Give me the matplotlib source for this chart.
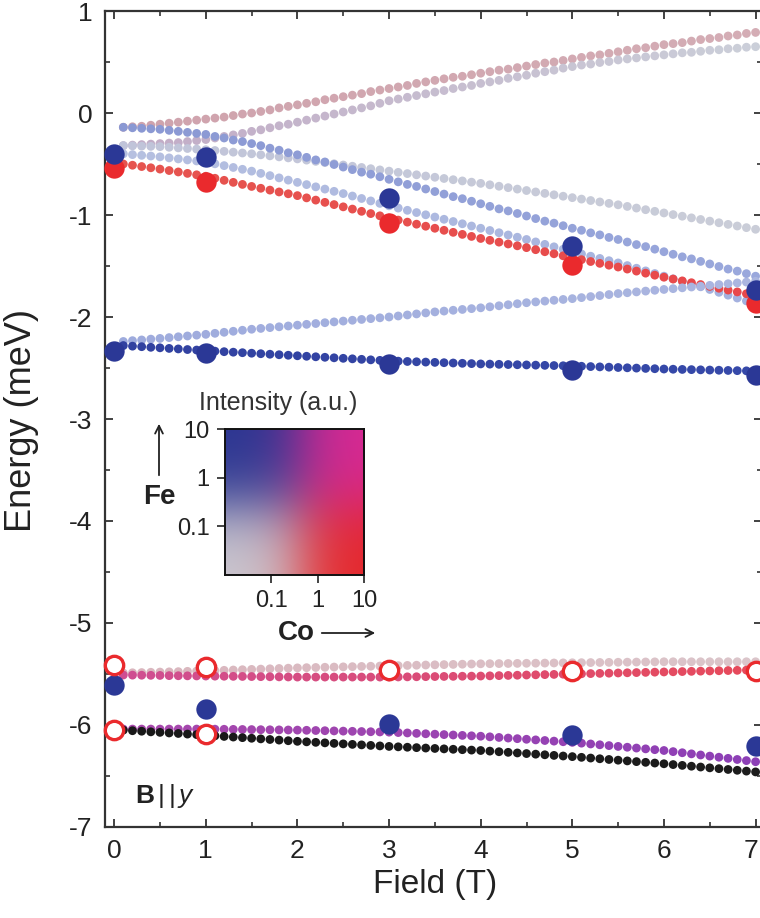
import numpy as np
import matplotlib
matplotlib.use("Agg")
import matplotlib.pyplot as plt
import matplotlib.transforms as mtransforms
from matplotlib.ticker import MultipleLocator

plt.rcParams['font.family'] = ['Liberation Sans', 'DejaVu Sans']
plt.rcParams['axes.unicode_minus'] = False
plt.rcParams['mathtext.fontset'] = 'custom'
plt.rcParams['mathtext.rm'] = 'Liberation Sans'
plt.rcParams['mathtext.bf'] = 'Liberation Sans:bold'
plt.rcParams['mathtext.it'] = 'Liberation Sans:italic'

# ---------------- data ----------------
field = np.round(np.arange(1, 71) * 0.1, 1)   # calculated levels, 0.1 ... 7.0 T

level_rosy = [-0.14,-0.135,-0.13,-0.12,-0.11,-0.10,-0.09,-0.08,-0.07,-0.06,
              -0.05,-0.04,-0.025,-0.01,0.0,0.015,0.03,0.05,0.065,0.08,
              0.095,0.11,0.13,0.145,0.16,0.175,0.19,0.21,0.225,0.24,
              0.255,0.27,0.29,0.305,0.32,0.335,0.35,0.36,0.375,0.39,
              0.405,0.42,0.43,0.445,0.46,0.475,0.49,0.50,0.515,0.53,
              0.545,0.56,0.57,0.585,0.60,0.615,0.63,0.64,0.655,0.67,
              0.68,0.69,0.705,0.72,0.73,0.74,0.755,0.765,0.78,0.79]
level_gray_up = [-0.32,-0.315,-0.31,-0.305,-0.30,-0.295,-0.29,-0.28,-0.27,-0.26,
                 -0.245,-0.23,-0.215,-0.20,-0.18,-0.165,-0.145,-0.125,-0.11,-0.09,
                 -0.07,-0.05,-0.03,-0.01,0.01,0.03,0.05,0.07,0.095,0.12,
                 0.137,0.154,0.171,0.188,0.205,0.22,0.24,0.255,0.27,0.29,
                 0.305,0.32,0.34,0.355,0.37,0.39,0.405,0.42,0.44,0.455,
                 0.47,0.48,0.495,0.505,0.52,0.53,0.54,0.55,0.56,0.57,
                 0.58,0.59,0.595,0.605,0.615,0.62,0.63,0.635,0.645,0.65]
level_blue_down = [-0.14,-0.145,-0.15,-0.155,-0.16,-0.17,-0.18,-0.19,-0.20,-0.21,
                   -0.23,-0.245,-0.265,-0.28,-0.30,-0.32,-0.345,-0.365,-0.39,-0.41,
                   -0.435,-0.46,-0.48,-0.505,-0.53,-0.555,-0.58,-0.60,-0.625,-0.65,
                   -0.675,-0.70,-0.72,-0.745,-0.77,-0.795,-0.82,-0.84,-0.865,-0.89,
                   -0.915,-0.94,-0.96,-0.985,-1.01,-1.035,-1.06,-1.08,-1.105,-1.13,
                   -1.15,-1.175,-1.195,-1.22,-1.24,-1.265,-1.29,-1.31,-1.335,-1.36,
                   -1.385,-1.41,-1.43,-1.455,-1.48,-1.505,-1.53,-1.55,-1.575,-1.60]
level_gray_down = [-0.32,-0.322,-0.325,-0.327,-0.33,-0.336,-0.342,-0.348,-0.354,-0.36,
                   -0.368,-0.376,-0.384,-0.392,-0.40,-0.41,-0.42,-0.43,-0.44,-0.45,
                   -0.462,-0.474,-0.486,-0.498,-0.51,-0.522,-0.534,-0.546,-0.558,-0.57,
                   -0.582,-0.594,-0.606,-0.618,-0.63,-0.642,-0.654,-0.666,-0.678,-0.69,
                   -0.704,-0.718,-0.732,-0.746,-0.76,-0.774,-0.788,-0.802,-0.816,-0.83,
                   -0.844,-0.858,-0.872,-0.886,-0.90,-0.916,-0.932,-0.948,-0.964,-0.98,
                   -0.996,-1.012,-1.028,-1.044,-1.06,-1.076,-1.092,-1.108,-1.124,-1.14]
level_light_down = [-0.40,-0.408,-0.415,-0.422,-0.43,-0.44,-0.45,-0.46,-0.47,-0.48,
                    -0.498,-0.516,-0.534,-0.552,-0.57,-0.592,-0.614,-0.636,-0.658,-0.68,
                    -0.702,-0.724,-0.746,-0.768,-0.79,-0.814,-0.838,-0.862,-0.886,-0.91,
                    -0.932,-0.954,-0.976,-0.998,-1.02,-1.042,-1.064,-1.086,-1.108,-1.13,
                    -1.152,-1.174,-1.196,-1.218,-1.24,-1.264,-1.288,-1.312,-1.336,-1.36,
                    -1.382,-1.404,-1.426,-1.448,-1.47,-1.496,-1.522,-1.548,-1.574,-1.60,
                    -1.626,-1.652,-1.678,-1.704,-1.73,-1.758,-1.786,-1.814,-1.842,-1.87]
level_red = [-0.50,-0.512,-0.525,-0.537,-0.55,-0.564,-0.578,-0.592,-0.606,-0.62,
             -0.64,-0.66,-0.68,-0.70,-0.72,-0.738,-0.756,-0.774,-0.792,-0.81,
             -0.832,-0.854,-0.876,-0.898,-0.92,-0.942,-0.964,-0.986,-1.008,-1.03,
             -1.05,-1.07,-1.09,-1.11,-1.13,-1.15,-1.17,-1.19,-1.21,-1.23,
             -1.248,-1.266,-1.284,-1.302,-1.32,-1.34,-1.36,-1.38,-1.40,-1.42,
             -1.438,-1.456,-1.474,-1.492,-1.51,-1.53,-1.55,-1.57,-1.59,-1.61,
             -1.628,-1.646,-1.664,-1.682,-1.70,-1.718,-1.736,-1.754,-1.772,-1.79]
level_light_up = [-2.24,-2.232,-2.225,-2.217,-2.21,-2.202,-2.194,-2.186,-2.178,-2.17,
                  -2.16,-2.15,-2.14,-2.13,-2.12,-2.112,-2.104,-2.096,-2.088,-2.08,
                  -2.072,-2.064,-2.056,-2.048,-2.04,-2.032,-2.024,-2.016,-2.008,-2.00,
                  -1.99,-1.98,-1.97,-1.96,-1.95,-1.942,-1.934,-1.926,-1.918,-1.91,
                  -1.90,-1.89,-1.88,-1.87,-1.86,-1.852,-1.844,-1.836,-1.828,-1.82,
                  -1.81,-1.80,-1.79,-1.78,-1.77,-1.762,-1.754,-1.746,-1.738,-1.73,
                  -1.722,-1.714,-1.706,-1.698,-1.69,-1.682,-1.674,-1.666,-1.658,-1.65]
level_dark_blue = [-2.28,-2.286,-2.291,-2.297,-2.302,-2.308,-2.313,-2.319,-2.324,-2.33,
                   -2.335,-2.34,-2.345,-2.35,-2.355,-2.36,-2.365,-2.37,-2.375,-2.38,
                   -2.385,-2.39,-2.395,-2.40,-2.405,-2.41,-2.415,-2.42,-2.425,-2.43,
                   -2.433,-2.436,-2.439,-2.442,-2.445,-2.448,-2.451,-2.454,-2.457,-2.46,
                   -2.462,-2.464,-2.466,-2.468,-2.47,-2.472,-2.474,-2.476,-2.478,-2.48,
                   -2.483,-2.486,-2.489,-2.492,-2.495,-2.498,-2.501,-2.504,-2.507,-2.51,
                   -2.512,-2.514,-2.516,-2.518,-2.52,-2.522,-2.524,-2.526,-2.528,-2.53]
level_low_rosy = [-5.49,-5.488,-5.486,-5.483,-5.481,-5.479,-5.477,-5.474,-5.472,-5.47,
                  -5.467,-5.464,-5.461,-5.458,-5.455,-5.452,-5.449,-5.446,-5.443,-5.44,
                  -5.438,-5.436,-5.434,-5.432,-5.43,-5.428,-5.426,-5.424,-5.422,-5.42,
                  -5.418,-5.416,-5.414,-5.412,-5.41,-5.408,-5.406,-5.404,-5.402,-5.40,
                  -5.399,-5.398,-5.397,-5.396,-5.395,-5.394,-5.393,-5.392,-5.391,-5.39,
                  -5.389,-5.388,-5.387,-5.386,-5.385,-5.384,-5.383,-5.382,-5.381,-5.38,
                  -5.38,-5.38,-5.38,-5.38,-5.38,-5.38,-5.38,-5.38,-5.38,-5.38]
level_low_pink = [-5.51,-5.511,-5.512,-5.513,-5.514,-5.516,-5.517,-5.518,-5.519,-5.52,
                  -5.521,-5.522,-5.523,-5.524,-5.525,-5.526,-5.527,-5.528,-5.529,-5.53,
                  -5.53,-5.53,-5.53,-5.53,-5.53,-5.53,-5.53,-5.53,-5.53,-5.53,
                  -5.529,-5.528,-5.527,-5.526,-5.525,-5.524,-5.523,-5.522,-5.521,-5.52,
                  -5.518,-5.516,-5.514,-5.512,-5.51,-5.508,-5.506,-5.504,-5.502,-5.50,
                  -5.498,-5.496,-5.494,-5.492,-5.49,-5.488,-5.486,-5.484,-5.482,-5.48,
                  -5.478,-5.476,-5.474,-5.472,-5.47,-5.468,-5.466,-5.464,-5.462,-5.46]
level_low_purple = [-6.04,-6.04,-6.04,-6.04,-6.04,-6.04,-6.04,-6.04,-6.04,-6.04,
                    -6.041,-6.042,-6.043,-6.044,-6.045,-6.046,-6.047,-6.048,-6.049,-6.05,
                    -6.052,-6.054,-6.056,-6.058,-6.06,-6.062,-6.064,-6.066,-6.068,-6.07,
                    -6.074,-6.078,-6.082,-6.086,-6.09,-6.094,-6.098,-6.102,-6.106,-6.11,
                    -6.116,-6.122,-6.128,-6.134,-6.14,-6.146,-6.152,-6.158,-6.164,-6.17,
                    -6.178,-6.186,-6.194,-6.202,-6.21,-6.218,-6.226,-6.234,-6.242,-6.25,
                    -6.261,-6.272,-6.283,-6.294,-6.305,-6.316,-6.327,-6.338,-6.349,-6.36]
level_low_black = [-6.05,-6.056,-6.061,-6.067,-6.072,-6.078,-6.083,-6.089,-6.094,-6.10,
                   -6.106,-6.112,-6.118,-6.124,-6.13,-6.136,-6.142,-6.148,-6.154,-6.16,
                   -6.165,-6.17,-6.175,-6.18,-6.185,-6.19,-6.195,-6.20,-6.205,-6.21,
                   -6.214,-6.218,-6.222,-6.226,-6.23,-6.234,-6.238,-6.242,-6.246,-6.25,
                   -6.256,-6.262,-6.268,-6.274,-6.28,-6.286,-6.292,-6.298,-6.304,-6.31,
                   -6.317,-6.324,-6.331,-6.338,-6.345,-6.352,-6.359,-6.366,-6.373,-6.38,
                   -6.388,-6.396,-6.404,-6.412,-6.42,-6.428,-6.436,-6.444,-6.452,-6.46]

# measured peaks
exp_field = [0, 1, 3, 5, 7]
exp_blue_top = [-0.40, -0.43, -0.83, -1.30, -1.74]
exp_red_top = [-0.54, -0.68, -1.08, -1.49, -1.86]
exp_blue_mid = [-2.33, -2.35, -2.46, -2.52, -2.57]
exp_blue_low = [-5.61, -5.84, -5.99, -6.10, -6.21]
exp_open_high = [-5.41, -5.43, -5.46, -5.47, -5.47]
exp_open_low_field = [0, 1]
exp_open_low = [-6.05, -6.09]

# ---------------- figure ----------------
W, H = 760, 918
fig = plt.figure(figsize=(W / 100, H / 100), dpi=100)
ax = fig.add_axes([105 / W, (H - 827) / H, 657 / W, 816 / H])

def blend(c1, c2, n):
    a = np.array(matplotlib.colors.to_rgb(c1))
    b = np.array(matplotlib.colors.to_rgb(c2))
    t = np.linspace(0, 1, n)[:, None]
    return a * (1 - t) + b * t

n = len(field)
series = [
    (level_rosy, blend('#cfa3ad', '#d4adb5', n)),
    (level_gray_up, blend('#c2abc6', '#cbcfd9', n)),
    (level_gray_down, blend('#c0c4d9', '#cacdd8', n)),
    (level_blue_down, blend('#8a98d3', '#9aa8dc', n)),
    (level_light_down, blend('#b6c0e0', '#a3b1df', n)),
    (level_red, blend('#e6544f', '#e8484b', n)),
    (level_light_up, blend('#9eabdd', '#abb6e0', n)),
    (level_dark_blue, blend('#3141a0', '#3649a9', n)),
    (level_low_rosy, blend('#dab6be', '#dbc5ca', n)),
    (level_low_pink, blend('#cf4e92', '#e74a5a', n)),
    (level_low_purple, blend('#a848ac', '#8c3fb6', n)),
    (level_low_black, blend('#181818', '#1c1c1c', n)),
]
for vals, cols in series:
    ax.scatter(field, vals, s=40, c=cols, linewidths=0, zorder=2)

blue_big = '#2b3896'
red_big = '#ea2a2d'
ax.scatter(exp_field, exp_blue_top, s=215, color=blue_big, linewidths=0, zorder=4, clip_on=False)
ax.scatter(exp_field, exp_red_top, s=215, color=red_big, linewidths=0, zorder=3, clip_on=False)
ax.scatter(exp_field, exp_blue_mid, s=215, color=blue_big, linewidths=0, zorder=4, clip_on=False)
ax.scatter(exp_field, exp_blue_low, s=215, color=blue_big, linewidths=0, zorder=4, clip_on=False)
ax.scatter(exp_field, exp_open_high, s=175, facecolors='white', edgecolors=red_big,
           linewidths=2.4, zorder=4, clip_on=False)
ax.scatter(exp_open_low_field, exp_open_low, s=175, facecolors='white', edgecolors=red_big,
           linewidths=2.4, zorder=4, clip_on=False)

ax.set_xlim(-0.1, 7.07)
ax.set_ylim(-7, 1)
ax.xaxis.set_major_locator(MultipleLocator(1))
ax.xaxis.set_minor_locator(MultipleLocator(0.5))
ax.yaxis.set_major_locator(MultipleLocator(1))
ax.yaxis.set_minor_locator(MultipleLocator(0.5))
ax.tick_params(which='both', direction='in', top=True, right=True, colors='#333333',
               labelcolor='#222222')
ax.tick_params(which='major', length=6, width=1.3, labelsize=19, pad=9)
ax.tick_params(which='minor', length=3.5, width=1.2)
for sp in ax.spines.values():
    sp.set_linewidth(1.6)
    sp.set_color('#333333')

fig.canvas.draw()
# nudge the last x tick label ("7") slightly left so that it stays inside the figure
last = ax.get_xticklabels()[-1]
for lab in ax.get_xticklabels():
    if lab.get_text() == '7':
        lab.set_transform(lab.get_transform() + mtransforms.ScaledTranslation(-5 / 100, 0, fig.dpi_scale_trans))

fig.text(435 / W, 1 - 885 / H, 'Field (T)', ha='center', va='center', fontsize=24, color='#222222')
fig.text(22 / W, 1 - 421 / H, 'Energy (meV)', ha='center', va='center', rotation=90,
         fontsize=26, color='#222222')

ax.text(0.23, -6.76, r'$\mathbf{B}\,|\,|\,\mathit{y}$', fontsize=19, color='#222222', va='baseline')

# ---------------- inset 2D colour key ----------------
ins = fig.add_axes([225 / W, (H - 575) / H, 139 / W, 146 / H])
g = np.linspace(-2, 1, 300)
CO, FE = np.meshgrid(g, g)
wf = 1 / (1 + np.exp(-(FE + 0.6) * 2.6))
wc = 1 / (1 + np.exp(-(CO + 0.4) * 2.6))
c_gray = np.array([0.80, 0.79, 0.82])
c_blue = np.array([0.16, 0.21, 0.57])
c_red = np.array([0.90, 0.15, 0.16])
c_mag = np.array([0.85, 0.16, 0.58])
img = ((1 - wf) * (1 - wc))[..., None] * c_gray + (wf * (1 - wc))[..., None] * c_blue \
    + ((1 - wf) * wc)[..., None] * c_red + (wf * wc)[..., None] * c_mag
ins.imshow(img, origin='lower', extent=(-2, 1, -2, 1), aspect='auto', interpolation='bilinear')
ins.set_xlim(-2, 1)
ins.set_ylim(-2, 1)
ins.set_xticks([-1, 0, 1])
ins.set_xticklabels(['0.1', '1', '10'])
ins.set_yticks([-1, 0, 1])
ins.set_yticklabels(['0.1', '1', '10'])
ins.tick_params(direction='out', length=6, width=1.2, labelsize=17, pad=5,
                colors='#222222')
for sp in ins.spines.values():
    sp.set_linewidth(1.4)
    sp.set_color('#111111')

fig.text(278 / W, 1 - 403 / H, 'Intensity (a.u.)', ha='center', va='center', fontsize=18,
         color='#333333')
fig.text(159 / W, 1 - 497 / H, 'Fe', ha='center', va='center', fontsize=20,
         fontweight='bold', color='#222222')
fig.text(296 / W, 1 - 633 / H, 'Co', ha='center', va='center', fontsize=20,
         fontweight='bold', color='#222222')
fig.add_artist(matplotlib.patches.FancyArrowPatch((159 / W, 1 - 478 / H), (159 / W, 1 - 421 / H),
               transform=fig.transFigure, arrowstyle='->', mutation_scale=14, lw=1.3,
               color='#222222'))
fig.add_artist(matplotlib.patches.FancyArrowPatch((319 / W, 1 - 633 / H), (378 / W, 1 - 633 / H),
               transform=fig.transFigure, arrowstyle='->', mutation_scale=14, lw=1.3,
               color='#222222'))

fig.savefig('out.png', dpi=100)
